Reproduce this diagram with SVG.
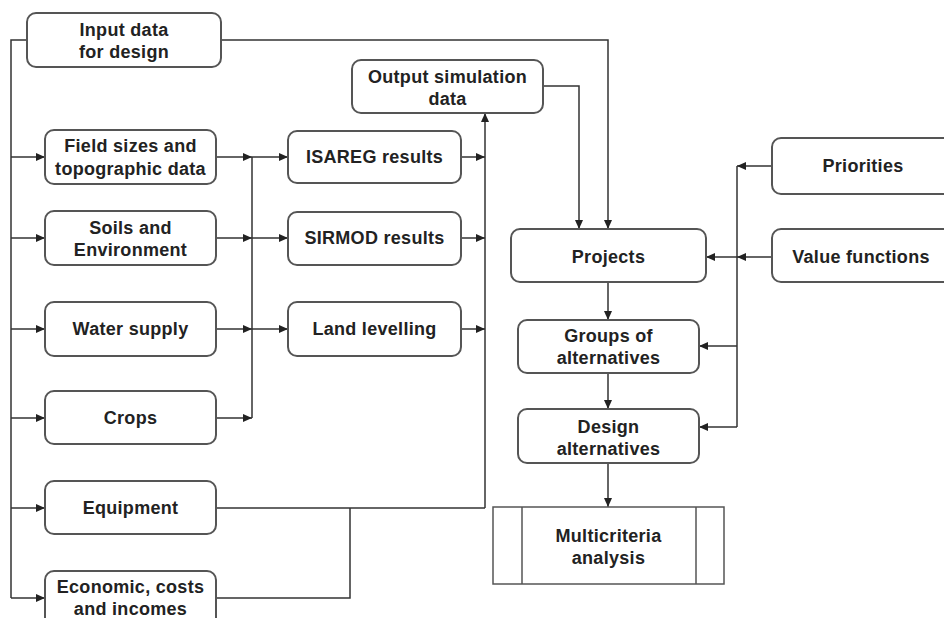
<svg xmlns="http://www.w3.org/2000/svg" width="944" height="618" viewBox="0 0 944 618">
<defs>
<marker id="ah" markerUnits="userSpaceOnUse" markerWidth="10" markerHeight="8" refX="9" refY="4" orient="auto">
<path d="M0,0 L9,4 L0,8 Z" fill="#222"/>
</marker>
<style>
.box{fill:#fff;stroke:#555;stroke-width:2}
.t{font-family:"Liberation Sans",Arial,sans-serif;font-weight:bold;font-size:18px;fill:#222;text-anchor:middle;dominant-baseline:central;letter-spacing:0.3px}
.c{fill:none;stroke:#333;stroke-width:1.5}
.a{marker-end:url(#ah)}
</style>
</defs>
<rect width="944" height="618" fill="#fff"/>
<g id="connectors">
<path class="c" d="M27,40 H11 V598"/>
<path class="c a" d="M11,157 H45"/>
<path class="c a" d="M11,238 H45"/>
<path class="c a" d="M11,329 H45"/>
<path class="c a" d="M11,418 H45"/>
<path class="c a" d="M11,508 H45"/>
<path class="c a" d="M11,598 H45"/>
<path class="c a" d="M221,40 H608 V229"/>
<path class="c a" d="M543,86 H579 V229"/>
<path class="c a" d="M216,157 H252"/>
<path class="c a" d="M252,157 H288"/>
<path class="c a" d="M216,238 H252"/>
<path class="c a" d="M252,238 H288"/>
<path class="c a" d="M216,329 H252"/>
<path class="c a" d="M252,329 H288"/>
<path class="c a" d="M216,418 H252"/>
<path class="c" d="M252,157 V418"/>
<path class="c a" d="M461,157 H485"/>
<path class="c a" d="M461,238 H485"/>
<path class="c a" d="M461,329 H485"/>
<path class="c a" d="M485,508 V113"/>
<path class="c" d="M216,508 H485"/>
<path class="c" d="M216,598 H350 V508"/>
<path class="c a" d="M772,166 H737"/>
<path class="c" d="M737,166 V427"/>
<path class="c a" d="M772,257 H737"/>
<path class="c a" d="M737,257 H706"/>
<path class="c a" d="M737,346 H699"/>
<path class="c a" d="M737,427 H699"/>
<path class="c a" d="M608,282 V320"/>
<path class="c a" d="M608,373 V409"/>
<path class="c a" d="M608,463 V507"/>
</g>
<g id="input"><rect class="box" x="27" y="13" width="194" height="54" rx="9"/><text class="t" x="124" y="30">Input data</text><text class="t" x="124" y="52">for design</text></g>
<g id="field"><rect class="box" x="45" y="130" width="171" height="54" rx="9"/><text class="t" x="130.5" y="146">Field sizes and</text><text class="t" x="130.5" y="169">topographic data</text></g>
<g id="soils"><rect class="box" x="45" y="211" width="171" height="54" rx="9"/><text class="t" x="130.5" y="228">Soils and</text><text class="t" x="130.5" y="250">Environment</text></g>
<g id="water"><rect class="box" x="45" y="302" width="171" height="54" rx="9"/><text class="t" x="130.5" y="329">Water supply</text></g>
<g id="crops"><rect class="box" x="45" y="391" width="171" height="53" rx="9"/><text class="t" x="130.5" y="418">Crops</text></g>
<g id="equipment"><rect class="box" x="45" y="481" width="171" height="53" rx="9"/><text class="t" x="130.5" y="508">Equipment</text></g>
<g id="economic"><rect class="box" x="45" y="571" width="171" height="62" rx="9"/><text class="t" x="130.5" y="587">Economic, costs</text><text class="t" x="130.5" y="609">and incomes</text></g>
<g id="isareg"><rect class="box" x="288" y="131" width="173" height="52" rx="9"/><text class="t" x="374.5" y="157">ISAREG results</text></g>
<g id="sirmod"><rect class="box" x="288" y="212" width="173" height="53" rx="9"/><text class="t" x="374.5" y="238">SIRMOD results</text></g>
<g id="land"><rect class="box" x="288" y="302" width="173" height="54" rx="9"/><text class="t" x="374.5" y="329">Land levelling</text></g>
<g id="output"><rect class="box" x="352" y="60" width="191" height="53" rx="9"/><text class="t" x="447.5" y="77">Output simulation</text><text class="t" x="447.5" y="99">data</text></g>
<g id="projects"><rect class="box" x="511" y="229" width="195" height="53" rx="9"/><text class="t" x="608.5" y="257">Projects</text></g>
<g id="groups"><rect class="box" x="518" y="320" width="181" height="53" rx="9"/><text class="t" x="608.5" y="336">Groups of</text><text class="t" x="608.5" y="358">alternatives</text></g>
<g id="design"><rect class="box" x="518" y="409" width="181" height="54" rx="9"/><text class="t" x="608.5" y="427">Design</text><text class="t" x="608.5" y="449">alternatives</text></g>
<g id="multi"><rect x="493" y="507" width="231" height="77" fill="#fff" stroke="#555" stroke-width="1.5"/><path d="M522,507 V584 M696,507 V584" stroke="#555" stroke-width="1.5"/><text class="t" x="608.5" y="536">Multicriteria</text><text class="t" x="608.5" y="558">analysis</text></g>
<g id="priorities"><rect class="box" x="772" y="138" width="194" height="56" rx="9"/><text class="t" x="863" y="166">Priorities</text></g>
<g id="value"><rect class="box" x="772" y="229" width="194" height="53" rx="9"/><text class="t" x="861" y="257">Value functions</text></g>
</svg>
